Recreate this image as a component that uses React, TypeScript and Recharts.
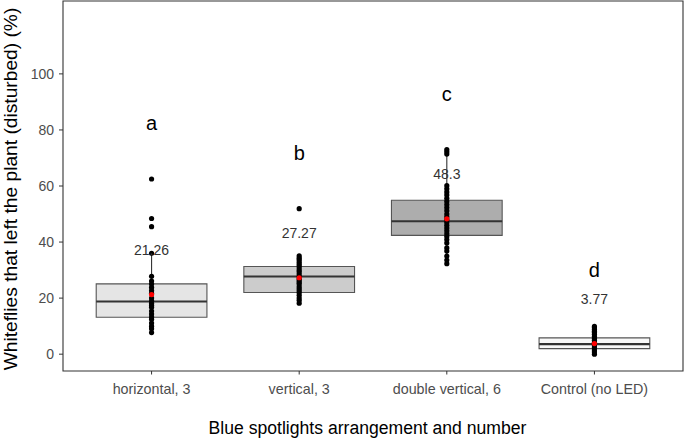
import React from "react";
import {
  ComposedChart,
  XAxis,
  YAxis,
  Scatter,
  ReferenceArea,
  ReferenceLine,
} from "recharts";

// groups on the x axis
const categories = [
  "horizontal, 3",
  "vertical, 3",
  "double vertical, 6",
  "Control (no LED)",
];
const groupLetters = ["a", "b", "c", "d"];
const means = [21.26, 27.27, 48.3, 3.77];

// box statistics
const q1 = [13.2, 22.0, 42.4, 2.0];
const medians = [18.8, 27.7, 47.4, 3.6];
const q3 = [25.1, 31.3, 54.9, 5.8];
const whiskerLow = [7.7, 18.2, 32.1, 0];
const whiskerHigh = [36.0, 35.1, 73.0, 9.9];

// individual observations (%)
const horizontalPts = [
  62.5, 48.4, 45.5, 36.0, 27.8, 26.1, 25.0, 23.8, 22.7, 21.7, 20.0, 19.0,
  18.2, 17.4, 16.7, 15.4, 14.3, 13.3, 12.5, 11.1, 10.0, 9.1, 7.7,
];
const verticalPts = [
  51.9, 35.1, 34.4, 33.8, 33.0, 32.3, 31.6, 30.8, 30.0, 29.4, 28.6, 27.8,
  27.0, 26.3, 25.6, 25.0, 24.1, 23.3, 22.6, 21.9, 21.0, 20.0, 19.2, 18.2,
];
const doubleVerticalPts = [
  73.0, 72.2, 71.4, 60.1, 59.0, 57.9, 56.8, 55.6, 54.5, 53.4, 52.3, 51.2,
  50.0, 49.0, 48.0, 47.0, 46.0, 45.0, 44.0, 43.0, 42.0, 40.9, 39.7, 37.9,
  36.8, 35.0, 33.6, 32.3,
];
const controlPts = [
  9.9, 9.4, 8.8, 8.2, 7.7, 7.1, 6.3, 5.6, 5.0, 4.3, 3.6, 3.0, 2.3, 1.5, 0.8,
  0,
];

const yTicks = [0, 20, 40, 60, 80, 100];

const boxFills = ["#e5e5e5", "#cccccc", "#adadad", "#f9f9f9"];
const FONT = "'Liberation Sans', Arial, sans-serif";
const BOX_HALF = 0.375;

const groups = [horizontalPts, verticalPts, doubleVerticalPts, controlPts];

const pointData = groups.flatMap((pts, i) =>
  pts.map((y) => ({ x: i + 1, y }))
);
const meanData = means.map((m, i) => ({ x: i + 1, y: m }));
const meanLabelData = means.map((m, i) => ({
  x: i + 1,
  y: m + 16,
  label: String(m),
}));
const letterData = groups.map((pts, i) => ({
  x: i + 1,
  y: Math.max(...pts) + 20,
  label: groupLetters[i],
}));

const dot = (fill: string) => (p: any) =>
  <circle cx={p.cx} cy={p.cy} r={2.6} fill={fill} />;

const textShape = (size: number, color: string) => (p: any) =>
  (
    <text
      x={p.cx}
      y={p.cy}
      textAnchor="middle"
      dominantBaseline="central"
      fontSize={size}
      fill={color}
      fontFamily={FONT}
    >
      {p.payload.label}
    </text>
  );

export default function App() {
  return (
    <div
      style={{
        position: "absolute",
        left: 0,
        top: 0,
        width: 685,
        height: 441,
        background: "#fff",
        fontFamily: FONT,
      }}
    >
      <ComposedChart
        width={685}
        height={441}
        margin={{ top: 1, right: 2, bottom: 0, left: 0 }}
      >
        <XAxis
          type="number"
          dataKey="x"
          domain={[0.4, 4.6]}
          ticks={[1, 2, 3, 4]}
          allowDataOverflow
          tickFormatter={(v: number) => categories[v - 1]}
          height={70}
          axisLine={false}
          tickLine={{ stroke: "#333" }}
          tickSize={3.5}
          tickMargin={9}
          tick={{ fontSize: 14.3, fill: "#4d4d4d", fontFamily: FONT }}
        />
        <YAxis
          type="number"
          dataKey="y"
          domain={[-6, 126]}
          ticks={yTicks}
          allowDataOverflow
          width={63}
          axisLine={false}
          tickLine={{ stroke: "#333" }}
          tickSize={4}
          tickMargin={5}
          tick={{ fontSize: 14, fill: "#4d4d4d", fontFamily: FONT }}
        />

        {/* panel border */}
        <ReferenceArea
          x1={0.4}
          x2={4.6}
          y1={-6}
          y2={126}
          fill="none"
          stroke="#333"
          strokeWidth={1.1}
        />

        {categories.map((_, i) => (
          <ReferenceLine
            key={"wu" + i}
            segment={[
              { x: i + 1, y: q3[i] },
              { x: i + 1, y: whiskerHigh[i] },
            ]}
            stroke="#333"
            strokeWidth={1.1}
          />
        ))}
        {categories.map((_, i) => (
          <ReferenceLine
            key={"wl" + i}
            segment={[
              { x: i + 1, y: whiskerLow[i] },
              { x: i + 1, y: q1[i] },
            ]}
            stroke="#333"
            strokeWidth={1.1}
          />
        ))}
        {categories.map((_, i) => (
          <ReferenceArea
            key={"box" + i}
            x1={i + 1 - BOX_HALF}
            x2={i + 1 + BOX_HALF}
            y1={q1[i]}
            y2={q3[i]}
            fill={boxFills[i]}
            fillOpacity={1}
            stroke="#555"
            strokeWidth={1.1}
          />
        ))}
        {categories.map((_, i) => (
          <ReferenceLine
            key={"med" + i}
            segment={[
              { x: i + 1 - BOX_HALF, y: medians[i] },
              { x: i + 1 + BOX_HALF, y: medians[i] },
            ]}
            stroke="#333"
            strokeWidth={2.1}
          />
        ))}

        <Scatter
          data={pointData}
          shape={dot("#000")}
          isAnimationActive={false}
        />
        <Scatter
          data={meanData}
          shape={dot("#ff0000")}
          isAnimationActive={false}
        />
        <Scatter
          data={meanLabelData}
          shape={textShape(14, "#333")}
          isAnimationActive={false}
        />
        <Scatter
          data={letterData}
          shape={textShape(20, "#000")}
          isAnimationActive={false}
        />
      </ComposedChart>

      <div
        style={{
          position: "absolute",
          left: 367.5,
          top: 420.3,
          transform: "translateX(-50%)",
          fontSize: 17.6,
          lineHeight: 1,
          whiteSpace: "nowrap",
          color: "#000",
        }}
      >
        Blue spotlights arrangement and number
      </div>
      <div
        style={{
          position: "absolute",
          left: 11,
          top: 188.8,
          transform: "translate(-50%, -50%) rotate(-90deg)",
          fontSize: 19.2,
          lineHeight: 1.1,
          whiteSpace: "nowrap",
          color: "#000",
        }}
      >
        Whiteflies that left the plant (disturbed) (%)
      </div>
    </div>
  );
}
